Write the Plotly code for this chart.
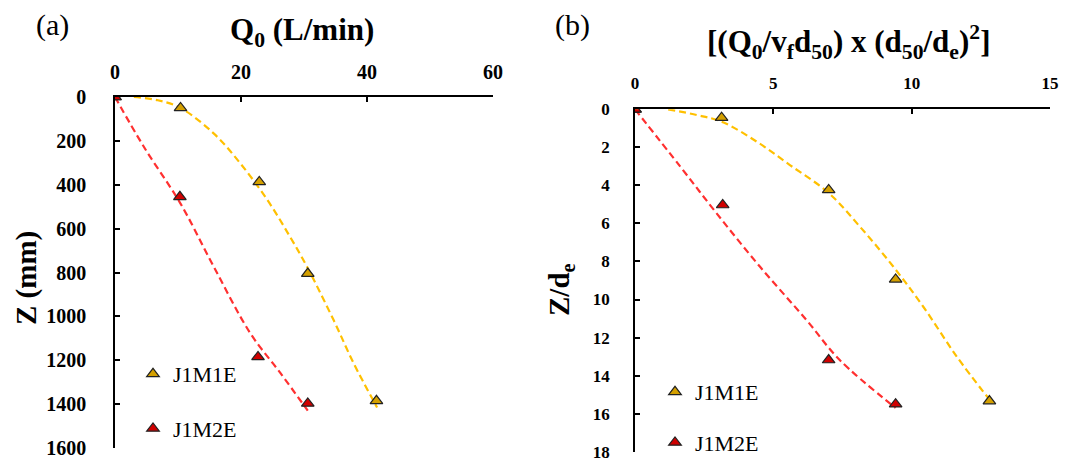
import plotly.graph_objects as go

# ---------------- data ----------------
series_names = ["J1M1E", "J1M2E"]

# panel (a): Q0 (L/min) vs Z (mm)
a_q_m1 = [0, 10.4, 22.9, 30.6, 41.5]
a_z_m1 = [0, 50, 387, 805, 1385]
a_q_m2 = [0, 10.3, 22.7, 30.6]
a_z_m2 = [0, 455, 1185, 1397]

# trend curves (a)
a_fit_q_m1 = [3.0, 6.8, 10.4, 15.7, 19.9, 24.2, 27.8, 30.5, 34.7, 37.9, 41.6]
a_fit_z_m1 = [0, 15, 50, 167, 303, 470, 638, 775, 1017, 1215, 1415]
a_fit_q_m2 = [0, 4.6, 10.4, 15.7, 21.5, 26.3, 30.6]
a_fit_z_m2 = [0, 228, 486, 775, 1078, 1260, 1430]

# panel (b): dimensionless discharge vs Z/de
b_x_m1 = [0, 3.13, 7.0, 9.42, 12.81]
b_z_m1 = [0, 0.44, 4.24, 8.94, 15.34]
b_x_m2 = [0, 3.17, 7.0, 9.42]
b_z_m2 = [0, 5.03, 13.18, 15.5]

b_fit_x_m1 = [1.2, 2.23, 3.13, 4.4, 5.6, 7.0, 8.13, 9.34, 10.42, 11.63, 12.78]
b_fit_z_m1 = [0, 0.3, 0.65, 1.7, 2.93, 4.4, 6.17, 8.28, 10.38, 13.0, 15.2]
b_fit_x_m2 = [0, 1.63, 2.95, 4.52, 6.2, 7.4, 9.42]
b_fit_z_m2 = [0, 3.0, 5.47, 8.28, 11.08, 13.18, 15.7]

a_xticks = [0, 20, 40, 60]
a_yticks = [0, 200, 400, 600, 800, 1000, 1200, 1400, 1600]
b_xticks = [0, 5, 10, 15]
b_yticks = [0, 2, 4, 6, 8, 10, 12, 14, 16, 18]

# ---------------- styles ----------------
W, H = 1067, 461
SERIF = "Liberation Serif"
yel_line = "#FFC000"
red_line = "#FF3030"
yel_fill = "#D4A000"
red_fill = "#D00000"

fig = go.Figure()


def add_panel(xa, ya, legend, fq1, fz1, fq2, fz2, q1, z1, q2, z2):
    fig.add_trace(go.Scatter(x=fq1, y=fz1, mode="lines", xaxis=xa, yaxis=ya,
                             line=dict(color=yel_line, width=2.2, dash="7px,4px", shape="spline"),
                             showlegend=False, hoverinfo="skip"))
    fig.add_trace(go.Scatter(x=fq2, y=fz2, mode="lines", xaxis=xa, yaxis=ya,
                             line=dict(color=red_line, width=2.2, dash="7px,4px", shape="spline"),
                             showlegend=False, hoverinfo="skip"))
    fig.add_trace(go.Scatter(x=q1, y=z1, mode="markers", xaxis=xa, yaxis=ya, name=series_names[0],
                             legend=legend, legendgroup=legend + "1",
                             marker=dict(symbol="triangle-up", size=11, color=yel_fill,
                                         line=dict(color="#222222", width=1.2))))
    fig.add_trace(go.Scatter(x=q2, y=z2, mode="markers", xaxis=xa, yaxis=ya, name=series_names[1],
                             legend=legend, legendgroup=legend + "2",
                             marker=dict(symbol="triangle-up", size=11, color=red_fill,
                                         line=dict(color="#222222", width=1.2))))


add_panel("x", "y", "legend", a_fit_q_m1, a_fit_z_m1, a_fit_q_m2, a_fit_z_m2,
          a_q_m1, a_z_m1, a_q_m2, a_z_m2)
add_panel("x2", "y2", "legend2", b_fit_x_m1, b_fit_z_m1, b_fit_x_m2, b_fit_z_m2,
          b_x_m1, b_z_m1, b_x_m2, b_z_m2)


def px_x(p):
    return p / W


def px_y(p):
    return 1 - p / H


axis_common = dict(showgrid=False, zeroline=False, showline=True, linecolor="black", linewidth=1.5,
                   ticks="inside", ticklen=5, tickwidth=1.5, tickcolor="black", automargin=False,
                   ticklabeloverflow="allow")

fig.update_layout(
    width=W, height=H, autosize=False,
    margin=dict(l=0, r=0, t=0, b=0, autoexpand=False),
    paper_bgcolor="white", plot_bgcolor="white",
    xaxis=dict(domain=[px_x(115), px_x(493)], range=[0, 60], side="top", anchor="y",
               tickvals=a_xticks, ticklabelstandoff=8,
               tickfont=dict(family=SERIF, size=20, color="black", weight="bold"), **axis_common),
    yaxis=dict(domain=[px_y(448), px_y(97)], range=[1600, 0], anchor="x",
               tickvals=a_yticks, ticklabelstandoff=23,
               tickfont=dict(family=SERIF, size=20, color="black", weight="bold"), **axis_common),
    xaxis2=dict(domain=[px_x(635), px_x(1050)], range=[0, 15], side="top", anchor="y2",
                tickvals=b_xticks, ticklabelstandoff=12,
                tickfont=dict(family=SERIF, size=17, color="black", weight="bold"), **axis_common),
    yaxis2=dict(domain=[px_y(451.7), px_y(109.3)], range=[18, 0], anchor="x2",
                tickvals=b_yticks, ticklabelstandoff=20,
                tickfont=dict(family=SERIF, size=17, color="black", weight="bold"), **axis_common),
    legend=dict(x=px_x(133), y=px_y(353), xanchor="left", yanchor="top",
                bgcolor="rgba(0,0,0,0)", traceorder="grouped", tracegroupgap=23,
                font=dict(family=SERIF, size=22, color="black"), itemwidth=30),
    legend2=dict(x=px_x(655), y=px_y(371), xanchor="left", yanchor="top",
                 bgcolor="rgba(0,0,0,0)", traceorder="grouped", tracegroupgap=19,
                 font=dict(family=SERIF, size=22, color="black"), itemwidth=30),
)

ann_font = dict(family=SERIF, color="black")


def ann(text, x, y, size, angle=0):
    fig.add_annotation(text=text, x=px_x(x), y=px_y(y), xref="paper", yref="paper",
                       xanchor="center", yanchor="middle", showarrow=False, textangle=angle,
                       font=dict(size=size, **ann_font))


ann("(a)", 52, 25, 30)
ann("(b)", 572, 25, 30)
ann("<b>Q<sub>0</sub> (L/min)</b>", 302, 32, 31)
ann("<b>[(Q<sub>0</sub>/v<sub>f</sub>d<sub>50</sub>) x (d<sub>50</sub>/d<sub>e</sub>)<sup>2</sup>]</b>", 848, 42, 31)
ann("<b>Z (mm)</b>", 26, 278, 29, -90)
ann("<b>Z/d<sub>e</sub></b>", 561, 290, 29, -90)

fig.write_html("out.html", config={"displayModeBar": False},
               post_script="document.body.style.margin='0px';document.documentElement.style.overflow='hidden';")
